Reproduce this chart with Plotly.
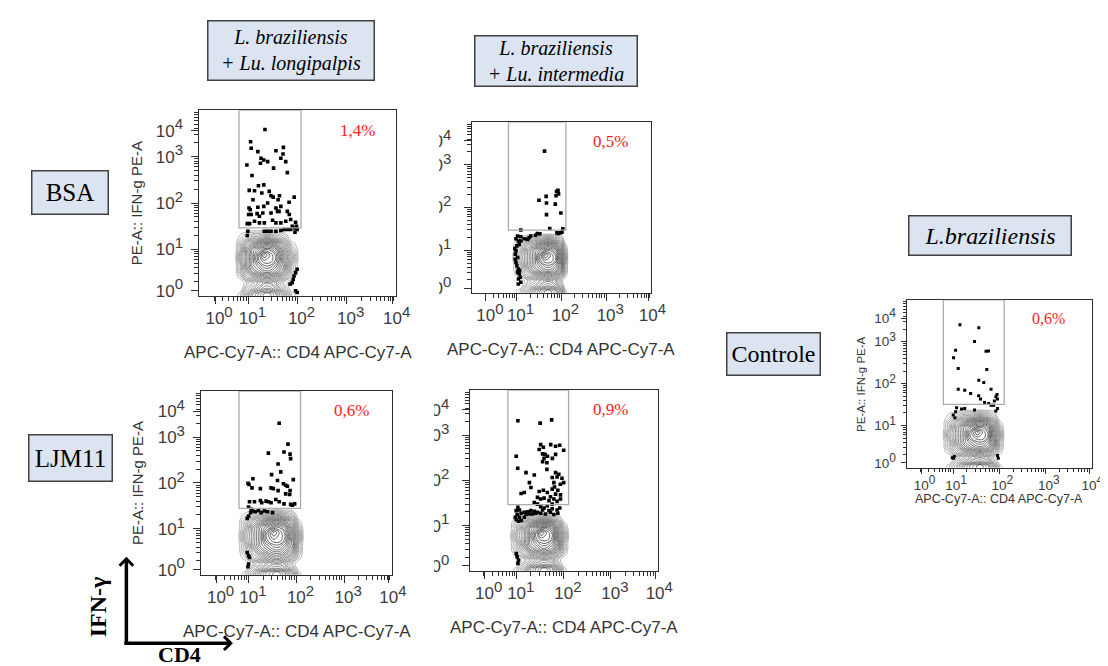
import math
import plotly.graph_objects as go

W, H = 1108, 666

# ---------------- DATA (display channel units, 0-100 on both axes) ----------------
tick_exponents = ["0", "1", "2", "3", "4"]
x_tick_vals = [8, 25, 50, 75, 98.5]
y_tick_vals = [2.8, 25, 50, 75, 89]
decade_bounds = [0, 25, 50, 75, 100]

percent_labels = ["1,4%", "0,5%", "0,6%", "0,9%", "0,6%"]
gate_x0 = [20.2, 20.5, 19.8, 20.3, 19.8]
gate_x1 = [51.8, 52.5, 52.1, 52.5, 52.6]
gate_y0 = [36.6, 36.8, 36.1, 36.6, 37.6]

# shared density template for the contour populations (rows bottom->top)
contour_density = [
    [0, 1, 3, 5, 6, 7, 7, 6, 4, 1, 0],
    [0, 1, 3, 5, 6, 7, 7, 6, 4, 1, 0],
    [0, 0, 2, 3, 4, 5, 5, 4, 2, 0, 0],
    [0, 0, 1, 2, 3, 4, 4, 3, 1, 0, 0],
    [0, 1, 3, 4, 5, 6, 6, 5, 3, 1, 0],
    [0, 2, 4, 6, 7, 8, 8, 7, 5, 2, 0],
    [0, 2, 5, 7, 8, 9, 9, 8, 6, 2, 0],
    [0, 3, 5, 7, 9, 10, 10, 9, 6, 3, 0],
    [0, 3, 5, 7, 9, 11, 10, 9, 6, 3, 0],
    [0, 2, 5, 7, 8, 9, 9, 8, 5, 2, 0],
    [0, 2, 4, 5, 6, 7, 7, 6, 4, 1, 0],
    [0, 1, 2, 3, 3, 4, 4, 3, 2, 0, 0],
    [0, 0, 0, 0, 0, 0, 0, 0, 0, 0, 0],
]
contour_x_bsa_longi = [18, 21, 24, 27, 30, 33, 36, 39, 43, 47, 51]
contour_y_bsa_longi = [-3, 1, 4, 7, 10, 13, 16, 19, 22, 25, 28, 31, 36]
contour_x_bsa_inter = [22, 27, 31, 35, 38, 41, 44, 47, 50, 52, 54]
contour_y_bsa_inter = [-3, 1, 4, 7, 10, 13, 16, 19, 22, 25, 28, 31, 35]
contour_x_ljm_longi = [19, 23, 27, 31, 34, 38, 41, 44, 48, 51, 54]
contour_y_ljm_longi = [-3, 1, 3.5, 6, 9, 13, 16, 19, 23, 26, 29, 32, 36]
contour_x_ljm_inter = [21, 25, 29, 32, 35, 38, 41, 44, 47, 50, 53]
contour_y_ljm_inter = [-3, 1, 3.5, 6, 9, 12, 15, 18, 21, 23.5, 26, 28.5, 32]
contour_x_controle = [19, 23, 27, 31, 34, 38, 41, 44, 47, 50, 53]
contour_y_controle = [-3, 1, 3.5, 6, 9, 12, 15, 18, 21, 24, 27, 30, 35]

events_bsa_longi = [
    (33.4, 89.6), (26.1, 83.0), (26.4, 79.5), (29.8, 77.7), (24.2, 70.5), (26.8, 64.8), (31.4, 74.1),
    (32.8, 73.2), (34.8, 72.3), (31.1, 71.4), (39.0, 78.2), (41.5, 74.1), (42.8, 80.0), (42.6, 76.4),
    (37.8, 68.8), (44.0, 72.3), (44.8, 66.4), (25.4, 56.8), (28.1, 56.6), (30.1, 59.3), (32.8, 59.8),
    (31.8, 55.4), (27.3, 51.8), (36.5, 53.9), (37.6, 53.2), (40.8, 53.9), (40.1, 51.8), (35.6, 56.3),
    (45.7, 50.4), (48.3, 53.2), (25.3, 47.3), (25.9, 46.4), (29.8, 47.7), (32.8, 48.2), (34.8, 50.0),
    (41.5, 48.2), (39.0, 47.3), (40.6, 45.5), (25.1, 43.8), (26.4, 43.8), (29.4, 44.3), (30.6, 42.9),
    (32.3, 44.6), (36.5, 44.6), (39.8, 45.5), (44.8, 45.5), (45.8, 43.8), (46.5, 41.1), (44.0, 40.2),
    (41.5, 39.3), (49.0, 39.6), (47.3, 37.5), (49.5, 37.5), (24.4, 38.9), (25.6, 38.9), (28.1, 40.2),
    (30.6, 39.3), (33.1, 39.3), (37.3, 40.7), (39.0, 39.3), (33.1, 34.8), (34.8, 34.8), (36.5, 34.8),
    (39.0, 34.8), (41.5, 35.2), (43.1, 35.7), (44.8, 35.7), (46.5, 35.7), (48.5, 36.6), (49.8, 35.7),
    (48.7, 34.3), (24.7, 34.8), (24.4, 32.5), (49.8, 14.3), (49.0, 12.5), (48.2, 10.7), (47.8, 8.9),
    (47.3, 7.1), (46.2, 6.3), (49.0, 2.7), (49.8, 1.8),
]
events_bsa_inter = [
    (40.6, 83.0), (37.5, 54.2), (41.5, 56.5), (41.7, 52.6), (46.6, 52.0), (47.3, 59.4), (48.1, 60.0),
    (47.0, 56.9), (48.4, 58.0), (41.7, 45.8), (49.7, 46.8), (43.5, 37.7), (47.5, 35.2), (48.4, 34.8),
    (49.4, 35.2), (50.3, 35.6), (50.8, 37.5), (27.4, 36.8), (36.6, 34.8), (38.0, 34.6), (35.6, 33.7),
    (32.9, 33.3), (32.0, 32.3), (31.1, 31.3), (29.3, 31.7), (27.4, 32.9), (25.6, 33.3), (24.7, 31.7),
    (26.0, 30.4), (27.4, 30.4), (26.5, 28.4), (25.2, 27.5), (24.1, 25.9), (24.7, 24.6), (24.3, 22.6),
    (25.6, 20.7), (24.7, 17.8), (25.2, 15.9), (26.0, 13.9), (25.6, 12.0), (26.5, 11.0), (27.1, 9.1),
    (26.1, 8.1), (27.4, 6.2), (26.0, 5.2), (26.7, 13.0), (24.3, 19.7),
]
events_ljm_longi = [
    (40.9, 82.5), (35.2, 66.2), (45.5, 71.1), (43.4, 66.8), (46.6, 65.7), (46.9, 63.2), (40.3, 60.3),
    (41.7, 56.0), (36.9, 54.5), (27.1, 52.3), (24.5, 49.8), (25.0, 49.1), (40.0, 51.3), (48.3, 51.8),
    (43.1, 49.5), (44.3, 48.7), (45.2, 48.2), (26.6, 47.3), (31.0, 46.9), (36.6, 47.3), (37.8, 46.9),
    (40.3, 45.8), (44.3, 44.0), (46.6, 45.8), (46.4, 43.7), (25.3, 39.7), (27.9, 39.7), (31.0, 40.4),
    (31.7, 39.2), (34.0, 40.1), (35.2, 39.7), (36.6, 39.2), (39.1, 41.0), (40.9, 39.7), (43.4, 38.6),
    (46.9, 38.3), (47.8, 37.9), (49.0, 38.6), (24.8, 36.8), (26.2, 35.6), (27.1, 34.7), (25.9, 33.8),
    (28.3, 34.3), (30.0, 35.0), (31.4, 33.8), (33.1, 34.7), (34.8, 34.3), (37.4, 33.8), (24.8, 31.9),
    (24.1, 30.7), (24.1, 12.1), (24.8, 10.3), (25.3, 9.4), (24.8, 5.8), (24.5, 4.3),
]
events_ljm_inter = [
    (25.6, 83.0), (37.4, 81.7), (43.5, 83.5), (24.7, 63.4), (25.5, 56.7), (29.9, 54.3), (34.3, 53.0),
    (37.7, 69.8), (39.1, 68.4), (43.0, 69.8), (45.6, 68.9), (47.8, 69.5), (49.9, 66.7), (36.9, 67.1),
    (38.7, 64.7), (40.0, 64.4), (41.3, 63.4), (41.0, 59.8), (38.7, 60.3), (45.6, 64.4), (43.9, 62.2),
    (39.5, 62.2), (41.0, 56.1), (45.6, 54.3), (46.4, 51.9), (47.3, 53.4), (49.0, 51.2), (49.9, 48.8),
    (48.1, 47.9), (43.8, 51.6), (44.7, 48.8), (31.7, 48.8), (32.5, 46.1), (36.9, 43.9), (39.1, 44.6),
    (41.2, 43.3), (43.8, 45.2), (46.8, 44.6), (45.6, 42.4), (48.2, 42.0), (45.0, 46.4), (27.3, 42.8),
    (29.0, 43.3), (36.0, 40.6), (37.7, 39.7), (39.5, 40.2), (42.1, 38.8), (42.9, 41.0), (44.7, 39.7),
    (46.4, 38.4), (48.2, 39.7), (43.8, 36.9), (34.3, 37.8), (36.0, 36.9), (37.7, 35.5), (39.5, 34.7),
    (41.2, 36.0), (38.7, 33.6), (42.1, 33.3), (46.4, 33.6), (47.8, 34.7), (46.8, 31.8), (43.8, 34.3),
    (25.6, 35.1), (24.7, 33.3), (26.4, 33.6), (27.3, 31.8), (25.2, 31.1), (24.2, 29.6), (26.4, 29.6),
    (24.7, 28.2), (29.0, 32.4), (30.8, 32.7), (32.5, 33.3), (34.3, 32.9), (36.0, 32.4), (29.9, 31.1),
    (31.7, 31.4), (33.4, 31.4), (35.1, 31.8), (37.7, 31.8), (40.2, 31.4), (42.9, 32.4), (44.7, 31.1),
    (29.0, 29.6), (25.9, 27.4), (27.3, 27.8), (24.7, 9.5), (25.2, 7.7), (25.9, 5.9), (25.6, 4.0),
]
events_controle = [
    (28.7, 85.1), (38.9, 83.4), (36.6, 75.2), (26.4, 69.9), (42.8, 69.3), (44.1, 69.5), (25.3, 65.5),
    (27.8, 59.0), (43.2, 58.4), (38.9, 52.1), (41.6, 50.7), (27.8, 46.7), (31.3, 46.1), (34.5, 44.2),
    (38.8, 42.8), (45.5, 46.7), (48.7, 43.6), (48.1, 42.2), (49.0, 40.8), (47.3, 39.6), (46.9, 37.2),
    (49.0, 35.2), (48.1, 33.7), (39.8, 40.8), (42.0, 38.8), (44.2, 38.2), (45.5, 37.2), (26.9, 35.6),
    (29.6, 34.9), (31.3, 35.2), (26.4, 33.3), (25.1, 31.3), (26.0, 29.7), (36.6, 34.3), (24.6, 5.9),
    (25.3, 5.5), (25.7, 6.5), (49.0, 7.1), (49.4, 5.5),
]

# ---------------- LAYOUT / STYLE ----------------
panels = [
    dict(events=events_bsa_longi, cx=contour_x_bsa_longi, cy=contour_y_bsa_longi,
         frame=(194, 393, 103, 290), small=False, pct=(80.5, 89.3), ytitle=True, lstand=5, mask=None),
    dict(events=events_bsa_inter, cx=contour_x_bsa_inter, cy=contour_y_bsa_inter,
         frame=(470, 652, 115, 287), small=False, pct=(77.1, 88.8), ytitle=False, lstand=9, mask=437),
    dict(events=events_ljm_longi, cx=contour_x_ljm_longi, cy=contour_y_ljm_longi,
         frame=(196, 389, 386, 571), small=False, pct=(78.8, 89.2), ytitle=True, lstand=5, mask=None),
    dict(events=events_ljm_inter, cx=contour_x_ljm_inter, cy=contour_y_ljm_inter,
         frame=(468, 659, 385, 567), small=False, pct=(74.6, 89.0), ytitle=False, lstand=9, mask=432),
    dict(events=events_controle, cx=contour_x_controle, cy=contour_y_controle,
         frame=(911, 1099, 294, 463), small=True, pct=(76.5, 88.7), ytitle=True, lstand=2, mask=None),
]

minor_vals = []
for b0, b1 in zip(decade_bounds[:-1], decade_bounds[1:]):
    for k in range(2, 10):
        minor_vals.append(b0 + (b1 - b0) * math.log10(k))

SANS = "Liberation Sans"
SERIF = "Liberation Serif"
AXC = "#2e2e2e"


def ann(**kw):
    base = dict(xref="paper", yref="paper", showarrow=False, xanchor="center", yanchor="middle")
    base.update(kw)
    return base


def tick_labels(sup_px):
    return ["10<sup><span style='font-size:%dpx'>%s</span></sup>" % (sup_px, e) for e in tick_exponents]


fig = go.Figure()
layout = dict(width=W, height=H, margin=dict(l=0, r=0, t=0, b=0),
              paper_bgcolor="white", plot_bgcolor="white", showlegend=False)
shapes = []
annotations = []

for i, p in enumerate(panels, start=1):
    sfx = "" if i == 1 else str(i)
    xr, yr = "x" + sfx, "y" + sfx
    L, R, T, B = p["frame"]
    small = p["small"]
    fs = 13.5 if small else 17
    common = dict(range=[0, 100], showline=True, mirror=True, linecolor=AXC, linewidth=1,
                  showgrid=False, zeroline=False, tickmode="array",
                  ticktext=tick_labels(12 if small else 15),
                  ticks="outside", ticklen=5 if small else 7, tickwidth=1.2, tickcolor=AXC,
                  tickfont=dict(family=SANS, size=fs, color="#3c3c3c"),
                  minor=dict(tickmode="array", tickvals=minor_vals, ticks="outside",
                             ticklen=3 if small else 4, tickcolor=AXC, tickwidth=1.1),
                  fixedrange=True)
    layout["xaxis" + sfx] = dict(common, domain=[L / W, R / W], anchor=yr, tickvals=x_tick_vals,
                                 ticklabelstandoff=0, ticklabelshift=3 if small else 4)
    layout["yaxis" + sfx] = dict(common, domain=[1 - B / H, 1 - T / H], anchor=xr, tickvals=y_tick_vals,
                                 ticklabelstandoff=p["lstand"])

    # contour population
    fig.add_trace(go.Contour(
        x=p["cx"], y=p["cy"], z=contour_density, xaxis=xr, yaxis=yr,
        contours=dict(coloring="lines", start=0.6, end=11, size=0.45),
        colorscale=[[0, "#a0a0a0"], [0.5, "#5e5e5e"], [1, "#2a2a2a"]],
        line=dict(width=0.8, smoothing=1.3), showscale=False, hoverinfo="skip"))
    # events
    fig.add_trace(go.Scatter(
        x=[e[0] for e in p["events"]], y=[e[1] for e in p["events"]], xaxis=xr, yaxis=yr,
        mode="markers", marker=dict(symbol="square", size=3 if small else 3.6, color="black"),
        hoverinfo="skip"))
    # gate
    shapes.append(dict(type="rect", xref=xr, yref=yr, x0=gate_x0[i - 1], x1=gate_x1[i - 1],
                       y0=gate_y0[i - 1], y1=100, line=dict(color="#ababab", width=1.3)))
    # percent
    annotations.append(ann(xref=xr, yref=yr, x=p["pct"][0], y=p["pct"][1], text=percent_labels[i - 1],
                           font=dict(family=SERIF, size=16 if small else 17, color="#ff1a1a")))
    # axis titles
    annotations.append(ann(x=(L + R) / 2 / W, y=1 - (B + (32 if small else 57)) / H,
                           text="APC-Cy7-A:: CD4 APC-Cy7-A",
                           font=dict(family=SANS, size=12.5 if small else 17, color="#333333")))
    if p["ytitle"]:
        annotations.append(ann(x=(L - (47 if small else 64)) / W, y=1 - (T + B) / 2 / H,
                               text="PE-A:: IFN-g PE-A", textangle=-90,
                               font=dict(family=SANS, size=11.5 if small else 15, color="#333333")))
    # mask hiding the cropped part of the y tick labels (middle panels)
    if p["mask"]:
        shapes.append(dict(type="rect", xref="paper", yref="paper", x0=(L - 75) / W, x1=p["mask"] / W,
                           y0=1 - (B + 12) / H, y1=1 - (T - 12) / H, fillcolor="white",
                           line=dict(width=0), layer="above"))

# label boxes
boxes = [
    ("<i>L. braziliensis</i><br><i>+ Lu. longipalpis</i>", 286.5, 43, 169, 62, 20),
    ("<i>L. braziliensis</i><br><i>+ Lu. intermedia</i>", 555.5, 53.5, 165, 53, 20),
    ("BSA", 62.5, 186, 79, 46, 25),
    ("LJM11", 63, 453, 86, 49, 25),
    ("Controle", 776, 349, 96, 45, 24),
    ("<i>L.braziliensis</i>", 995.5, 229, 165, 42, 24),
]
for text, cx, cy, bw, bh, fsz in boxes:
    annotations.append(ann(x=cx / W, y=1 - cy / H, text=text, width=bw - 4, height=bh - 4,
                           align="center", valign="middle", bgcolor="#dbe4f0", bordercolor="#404040",
                           borderwidth=1.5, borderpad=0, font=dict(family=SERIF, size=fsz, color="black")))

# IFN-γ / CD4 axis arrows
annotations.append(dict(xref="paper", yref="paper", x=120 / W, y=1 - 553 / H, ax=0, ay=89,
                        showarrow=True, arrowhead=4, arrowsize=0.75, arrowwidth=3.5, arrowcolor="black", text=""))
annotations.append(dict(xref="paper", yref="paper", x=228 / W, y=1 - 640 / H, ax=-110, ay=0,
                        showarrow=True, arrowhead=4, arrowsize=0.75, arrowwidth=3.5, arrowcolor="black", text=""))
annotations.append(ann(x=92 / W, y=1 - 603 / H, text="<b>IFN-γ</b>", textangle=-90,
                       font=dict(family=SERIF, size=24, color="black")))
annotations.append(ann(x=174 / W, y=1 - 651 / H, text="<b>CD4</b>",
                       font=dict(family=SERIF, size=22, color="black")))

layout["shapes"] = shapes
layout["annotations"] = annotations
fig.update_layout(**layout)
fig.write_html("out.html")
